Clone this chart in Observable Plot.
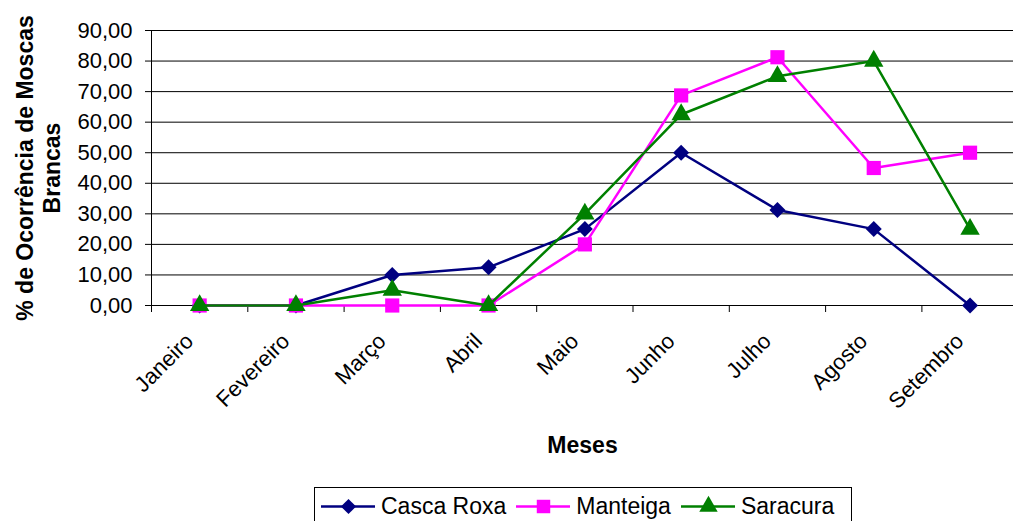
<!DOCTYPE html>
<html>
<head>
<meta charset="utf-8">
<script src="https://cdn.jsdelivr.net/npm/d3@7"></script>
<script src="https://cdn.jsdelivr.net/npm/@observablehq/plot@0.6"></script>
<style>
  html, body { margin: 0; padding: 0; background: #fff; }
  #wrap { position: relative; width: 1013px; height: 521px; overflow: hidden; font-family: "Liberation Sans", Arial, sans-serif; }
  #legend {
    position: absolute; left: 314px; top: 487px; width: 538px; height: 44px;
    border: 1px solid #000; box-sizing: border-box; display: flex; align-items: flex-start;
    padding: 4px 0 0 6px; font-size: 23px; color: #000;
  }
  .item { display: flex; align-items: center; margin-right: 10px; }
  .item svg { margin-right: 6px; }
</style>
</head>
<body>
<div id="wrap"><div id="chart"></div><div id="legend"></div></div>
<script>
// Months on the horizontal axis
const months = ["Janeiro", "Fevereiro", "Março", "Abril", "Maio", "Junho", "Julho", "Agosto", "Setembro"];
// % occurrence of whiteflies per variety
const cascaRoxa = [0, 0, 10, 12.5, 25, 50, 31.25, 25, 0];
const manteiga  = [0, 0, 0, 0, 20, 68.75, 81.25, 45, 50];
const saracura  = [0, 0, 5, 0, 30, 62.5, 75, 80, 25];
// Vertical axis ticks
const yTicks = [0, 10, 20, 30, 40, 50, 60, 70, 80, 90];

const series = [
  {name: "Casca Roxa", values: cascaRoxa, color: "#000080", symbol: "diamond2", r: 7.2},
  {name: "Manteiga",   values: manteiga,  color: "#FF00FF", symbol: "square",   r: 8.0},
  {name: "Saracura",   values: saracura,  color: "#008000", symbol: "triangle", r: 7.2}
];

const rows = series.flatMap(s => s.values.map((v, i) => ({serie: s.name, pos: i + 0.5, value: v})));

const fmt = d => d.toFixed(2).replace(".", ",");

const lineMarks = series.flatMap(s => {
  const data = rows.filter(d => d.serie === s.name);
  return [
    Plot.line(data, {x: "pos", y: "value", stroke: s.color, strokeWidth: 2.5}),
    Plot.dot(data, {x: "pos", y: "value", symbol: s.symbol, r: s.r, fill: s.color, stroke: "none"})
  ];
});

const chart = Plot.plot({
  width: 1013,
  height: 480,
  marginLeft: 151,
  marginTop: 30,
  marginBottom: 175,
  marginRight: 0,
  style: {fontFamily: "'Liberation Sans', Arial, sans-serif", fontSize: "22px", color: "#000", background: "#fff"},
  x: {type: "linear", domain: [0, 9], range: [151, 1017.7]},
  y: {domain: [0, 90], range: [305, 30]},
  marks: [
    Plot.ruleY(yTicks, {stroke: "#000", strokeWidth: 1}),
    Plot.ruleX([0], {stroke: "#000", strokeWidth: 1}),
    Plot.axisY({ticks: yTicks, tickSize: 6, tickPadding: 13, tickFormat: fmt, label: null, fontSize: 22, stroke: "#000"}),
    Plot.axisX({ticks: d3.range(0, 10), tickSize: 7, tickFormat: () => "", label: null, stroke: "#000"}),
    Plot.axisX({ticks: months.map((m, i) => i + 0.5), tickSize: 0, tickPadding: 32, dx: -10,
      tickRotate: -45, tickFormat: d => months[Math.floor(d)], label: null, fontSize: 22}),
    ...lineMarks,
    Plot.text(["% de Ocorrência de Moscas\nBrancas"], {frameAnchor: "left", dx: -114, rotate: -90,
      textAnchor: "middle", fontWeight: "bold", fontSize: 23, lineHeight: 1.17, lineAnchor: "middle", fill: "#000"}),
    Plot.text(["Meses"], {frameAnchor: "bottom", dy: 140, lineAnchor: "middle",
      fontWeight: "bold", fontSize: 23, fill: "#000"})
  ]
});
document.getElementById("chart").appendChild(chart);

// Legend below the chart
const legend = document.getElementById("legend");
series.forEach(s => {
  const item = document.createElement("div");
  item.className = "item";
  const sw = Plot.plot({
    width: 54, height: 28, margin: 0,
    x: {domain: [0, 54], range: [0, 54], axis: null},
    y: {domain: [0, 28], range: [28, 0], axis: null},
    marks: [
      Plot.ruleY([14], {x1: 0, x2: 54, stroke: s.color, strokeWidth: 2.5}),
      Plot.dot([27], {x: d => d, y: 14, symbol: s.symbol, r: s.r * 0.95, fill: s.color, stroke: "none"})
    ]
  });
  item.appendChild(sw);
  const label = document.createElement("span");
  label.textContent = s.name;
  item.appendChild(label);
  legend.appendChild(item);
});
</script>
</body>
</html>
